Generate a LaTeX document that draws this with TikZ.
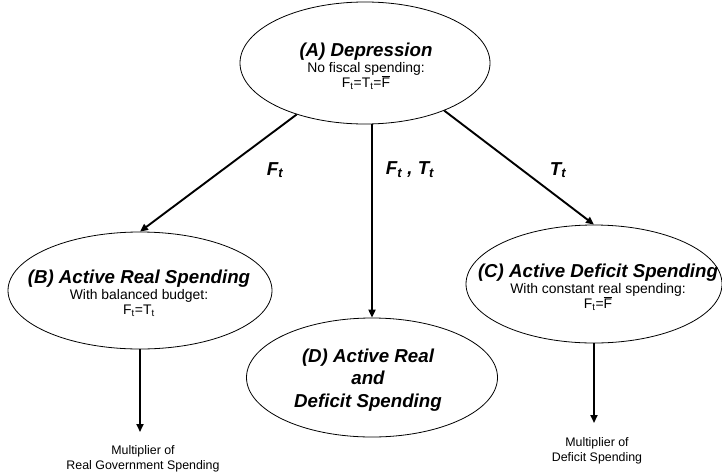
\documentclass[tikz,border=0pt]{standalone}
\usepackage{fontspec}
\setmainfont{Liberation Sans}
\usetikzlibrary{arrows.meta,shapes.geometric}
\newcommand\ttlfont{\fontsize{18.7}{22.7}\selectfont\bfseries\itshape}
\newcommand\subfont{\fontsize{13.9}{15}\selectfont}
\newcommand\botfont{\fontsize{12.4}{15.5}\selectfont}
\begin{document}
\begin{tikzpicture}[x=1pt,y=-1pt,
  ell/.style={draw,ellipse,line width=0.8pt,inner sep=0pt},
  txt/.style={align=center,inner sep=0pt,font=\subfont},
  bot/.style={align=center,inner sep=0pt,font=\botfont},
  lbl/.style={inner sep=0pt,font=\ttlfont},
  arr/.style={line width=1.9pt,-{Triangle[length=8pt,width=7pt]}}]
\fill[white] (0,0) rectangle (722,474);
\useasboundingbox (0,0) rectangle (722,474);
% ellipses
\node[ell, minimum width=250, minimum height=122] (A) at (365,63) {};
\node[ell, minimum width=264, minimum height=117] (B) at (140,290.5) {};
\node[ell, minimum width=256, minimum height=118] (C) at (594,284) {};
\node[ell, minimum width=251, minimum height=119] (D) at (372,377.5) {};
% texts
\node[txt] (At) at (366,66) {{\ttlfont (A) Depression}\\[1pt]No fiscal spending:\\F\textsubscript{t}=T\textsubscript{t}=$\overline{\mbox{F}}$};
\node[txt] (Bt) at (139,293) {{\ttlfont (B) Active Real Spending}\\[1pt]With balanced budget:\\F\textsubscript{t}=T\textsubscript{t}};
\node[txt] (Ct) at (598,287) {{\ttlfont (C) Active Deficit Spending}\\[1pt]With constant real spending:\\F\textsubscript{t}=$\overline{\mbox{F}}$};
\node[txt,font=\ttlfont] (Dt) at (368,380) {(D) Active Real\\and\\Deficit Spending};
% connectors
\draw[arr] (A.217) -- (B.north);
\draw[arr] (A.-31) -- (C.north);
\draw[arr] (A.south -| D.north) -- (D.north);
\coordinate (Bend) at (140,432);
\coordinate (Cend) at (594,423);
\draw[arr] (B.south) -- (Bend);
\draw[arr] (C.south) -- (Cend);
% labels
\node[lbl] (Lf) at (275,170) {F\textsubscript{t}};
\node[lbl] (Lft) at (410,170) {F\textsubscript{t} , T\textsubscript{t}};
\node[lbl] (Lt) at (558,170) {T\textsubscript{t}};
\node[bot] (Bm) at (143,459) {Multiplier of\\Real Government Spending};
\node[bot] (Cm) at (597,451) {Multiplier of\\Deficit Spending};
\end{tikzpicture}
\end{document}
